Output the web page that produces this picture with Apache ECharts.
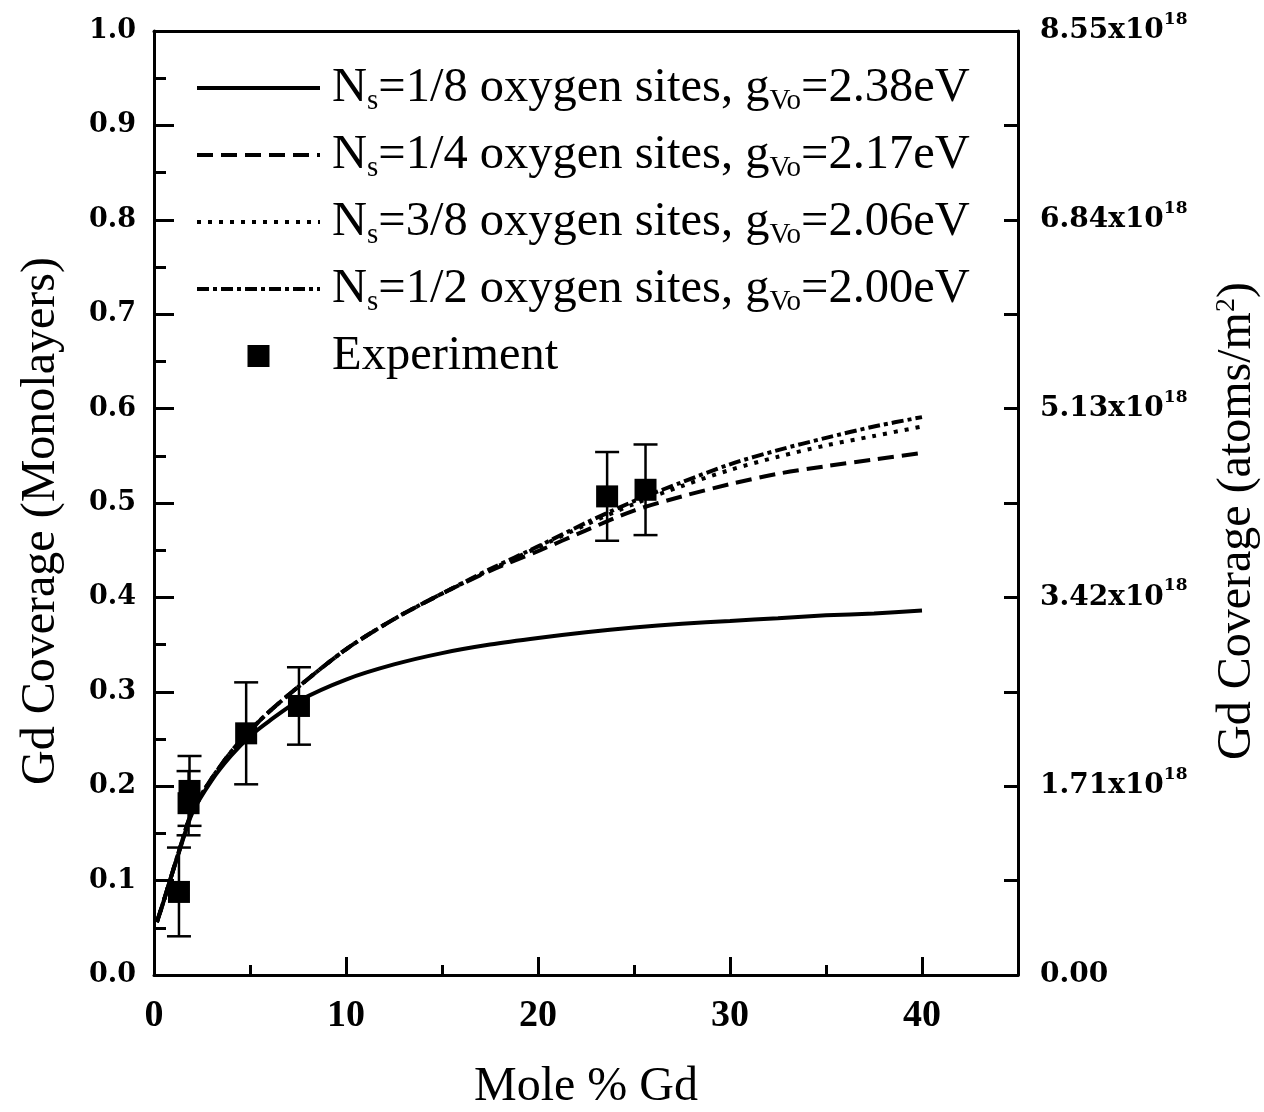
<!DOCTYPE html>
<html>
<head>
<meta charset="utf-8">
<title>Gd Coverage vs Mole % Gd</title>
<script src="https://cdn.jsdelivr.net/npm/echarts@6/dist/echarts.min.js"></script>
<style>
  html, body { margin: 0; padding: 0; background: #fff; }
  #chart { width: 1264px; height: 1112px; }
</style>
</head>
<body>
<div id="chart"></div>
<script>
// Model curves: Gd coverage (monolayers) against mole % Gd
const curveX = [0.15, 0.5, 0.8, 1.3, 2, 3, 4, 5, 6, 7.5, 10, 12.5, 15, 17.5, 20, 22.5, 25, 27.5, 30, 32.5, 35, 37.5, 40];
const ns18 = [0.056, 0.078, 0.098, 0.130, 0.172, 0.206, 0.232, 0.253, 0.269, 0.290, 0.313, 0.329, 0.341, 0.350, 0.357, 0.363, 0.368, 0.372, 0.375, 0.378, 0.381, 0.383, 0.386];
const ns14 = [0.056, 0.078, 0.098, 0.131, 0.174, 0.208, 0.236, 0.259, 0.279, 0.305, 0.345, 0.377, 0.404, 0.428, 0.449, 0.471, 0.492, 0.507, 0.520, 0.531, 0.539, 0.546, 0.553];
const ns38 = [0.056, 0.078, 0.098, 0.131, 0.174, 0.208, 0.236, 0.259, 0.279, 0.305, 0.345, 0.377, 0.404, 0.429, 0.453, 0.477, 0.499, 0.518, 0.535, 0.549, 0.561, 0.571, 0.581];
const ns12 = [0.056, 0.078, 0.098, 0.131, 0.174, 0.208, 0.236, 0.259, 0.279, 0.305, 0.345, 0.377, 0.404, 0.430, 0.454, 0.479, 0.502, 0.522, 0.541, 0.556, 0.569, 0.581, 0.591];

// Experimental points with symmetric error bars
const expX = [1.3, 1.8, 1.85, 4.8, 7.55, 23.6, 25.6];
const expY = [0.088, 0.182, 0.195, 0.256, 0.285, 0.507, 0.514];
const expErr = [0.047, 0.034, 0.037, 0.054, 0.041, 0.047, 0.048];

// Series names (legend text) and right-axis conversion
const seriesNames = [
  'N{sub|s}=1/8 oxygen sites, g{sub|Vo}=2.38eV',
  'N{sub|s}=1/4 oxygen sites, g{sub|Vo}=2.17eV',
  'N{sub|s}=3/8 oxygen sites, g{sub|Vo}=2.06eV',
  'N{sub|s}=1/2 oxygen sites, g{sub|Vo}=2.00eV',
  'Experiment'
];
const atomsPerMonolayer = 8.55; // x10^18 atoms/m^2
const rightStep = 0.855;

const zip = (xs, ys) => xs.map((x, i) => [x, ys[i]]);
const INK = '#000';
const SERIF = '"Liberation Serif", "Times New Roman", serif';
const WIDE = '"DejaVu Serif", serif';
const SQUARE = 'path://M0,0L10,0L10,10L0,10Z';

const chart = echarts.init(document.getElementById('chart'), null, { renderer: 'canvas' });

function curve(name, data, type) {
  return {
    name: name,
    type: 'line',
    data: data,
    showSymbol: false,
    symbol: 'none',
    smooth: 0.3,
    lineStyle: { color: INK, width: 4, type: type },
    itemStyle: { color: INK },
    z: 3,
    silent: true
  };
}

const hiddenMark = { color: 'rgba(0,0,0,0)', opacity: 0, borderWidth: 0 };
const frameLine = { show: true, onZero: false, lineStyle: { color: INK, width: 3 } };

const option = {
  backgroundColor: '#fff',
  animation: false,
  grid: { left: 154, right: 246, top: 31, bottom: 137, containLabel: false, outerBoundsMode: 'none' },
  legend: {
    data: seriesNames.slice(0, 4).map(n => ({ name: n, itemStyle: hiddenMark }))
      .concat([{ name: 'Experiment', icon: SQUARE, itemStyle: { color: INK, opacity: 1 } }]),
    orient: 'vertical',
    left: 195,
    top: 60,
    padding: 0,
    itemWidth: 123,
    itemHeight: 22,
    itemGap: 11,
    selectedMode: false,
    lineStyle: { width: 4 },
    textStyle: {
      fontFamily: SERIF,
      fontSize: 48.5,
      color: INK,
      lineHeight: 56,
      padding: [0, 0, 0, 7],
      rich: {
        sub: { fontFamily: SERIF, fontSize: 29, lineHeight: 14, verticalAlign: 'bottom', color: INK }
      }
    }
  },
  xAxis: [
    {
      type: 'value', position: 'bottom', min: 0, max: 45, interval: 10,
      name: 'Mole % Gd', nameLocation: 'middle', nameGap: 88, nameMoveOverlap: false,
      nameTextStyle: { fontFamily: SERIF, fontSize: 48, color: INK },
      axisLine: frameLine,
      axisTick: { show: true, inside: true, length: 18, lineStyle: { color: INK, width: 3 } },
      axisLabel: { show: true, margin: 22, showMaxLabel: false, fontFamily: SERIF, fontWeight: 'bold', fontSize: 38, color: INK },
      splitLine: { show: false }
    },
    {
      type: 'value', position: 'bottom', min: 0, max: 45, interval: 5,
      axisLine: { show: false, onZero: false },
      axisTick: { show: true, inside: true, length: 10, lineStyle: { color: INK, width: 3 } },
      axisLabel: { show: false },
      splitLine: { show: false }
    },
    {
      type: 'value', position: 'top', min: 0, max: 45, interval: 10,
      axisLine: frameLine,
      axisTick: { show: false },
      axisLabel: { show: false },
      splitLine: { show: false }
    }
  ],
  yAxis: [
    {
      type: 'value', position: 'left', min: 0, max: 1, interval: 0.1,
      name: 'Gd Coverage (Monolayers)', nameLocation: 'middle', nameGap: 89, nameRotate: 90, nameMoveOverlap: false,
      nameTextStyle: { fontFamily: SERIF, fontSize: 48, color: INK, padding: [0, 36, 0, 0] },
      axisLine: frameLine,
      axisTick: { show: true, inside: true, length: 20, lineStyle: { color: INK, width: 3 } },
      minorTick: { show: true, splitNumber: 2, length: 12, lineStyle: { color: INK, width: 3 } },
      axisLabel: {
        margin: 18, fontFamily: WIDE, fontWeight: 'bold', fontSize: 27, color: INK,
        formatter: v => v.toFixed(1)
      },
      splitLine: { show: false }
    },
    {
      type: 'value', position: 'right', min: 0, max: atomsPerMonolayer, interval: rightStep,
      name: 'Gd Coverage (atoms/m{sup|2})', nameLocation: 'middle', nameGap: 195, nameRotate: 90, nameMoveOverlap: false,
      nameTextStyle: {
        fontFamily: SERIF, fontSize: 48, color: INK, padding: [0, 36, 0, 0],
        rich: { sup: { fontFamily: SERIF, fontSize: 28, lineHeight: 30, verticalAlign: 'top', color: INK } }
      },
      axisLine: frameLine,
      axisTick: { show: true, inside: true, length: 14, lineStyle: { color: INK, width: 3 } },
      axisLabel: {
        margin: 22, fontFamily: WIDE, fontWeight: 'bold', fontSize: 28, color: INK,
        formatter: function (v) {
          const k = Math.round(v / rightStep);
          if (k % 2 !== 0) return '';
          if (k === 0) return '0.00';
          return (k * rightStep).toFixed(2) + 'x10{sup|18}';
        },
        rich: {
          sup: { fontFamily: WIDE, fontWeight: 'bold', fontSize: 17, lineHeight: 40, verticalAlign: 'top', color: INK }
        }
      },
      splitLine: { show: false }
    }
  ],
  series: [
    curve(seriesNames[0], zip(curveX, ns18), 'solid'),
    curve(seriesNames[1], zip(curveX, ns14), [16, 8]),
    curve(seriesNames[2], zip(curveX, ns38), [4, 7]),
    curve(seriesNames[3], zip(curveX, ns12), [12, 4, 4, 4]),
    {
      name: 'errorbars',
      type: 'custom',
      silent: true,
      z: 4,
      data: expX.map((x, i) => [x, expY[i] - expErr[i], expY[i] + expErr[i]]),
      renderItem: function (params, api) {
        const x = api.value(0);
        const lo = api.coord([x, api.value(1)]);
        const hi = api.coord([x, api.value(2)]);
        const cap = 12;
        const st = { stroke: INK, lineWidth: 2.5, fill: null };
        return {
          type: 'group',
          children: [
            { type: 'line', shape: { x1: lo[0], y1: lo[1], x2: hi[0], y2: hi[1] }, style: st },
            { type: 'line', shape: { x1: lo[0] - cap, y1: lo[1], x2: lo[0] + cap, y2: lo[1] }, style: st },
            { type: 'line', shape: { x1: hi[0] - cap, y1: hi[1], x2: hi[0] + cap, y2: hi[1] }, style: st }
          ]
        };
      }
    },
    {
      name: 'Experiment',
      type: 'scatter',
      data: zip(expX, expY),
      symbol: 'rect',
      symbolSize: 22,
      itemStyle: { color: INK, opacity: 1 },
      z: 5,
      silent: true
    }
  ]
};

chart.setOption(option);
</script>
</body>
</html>
